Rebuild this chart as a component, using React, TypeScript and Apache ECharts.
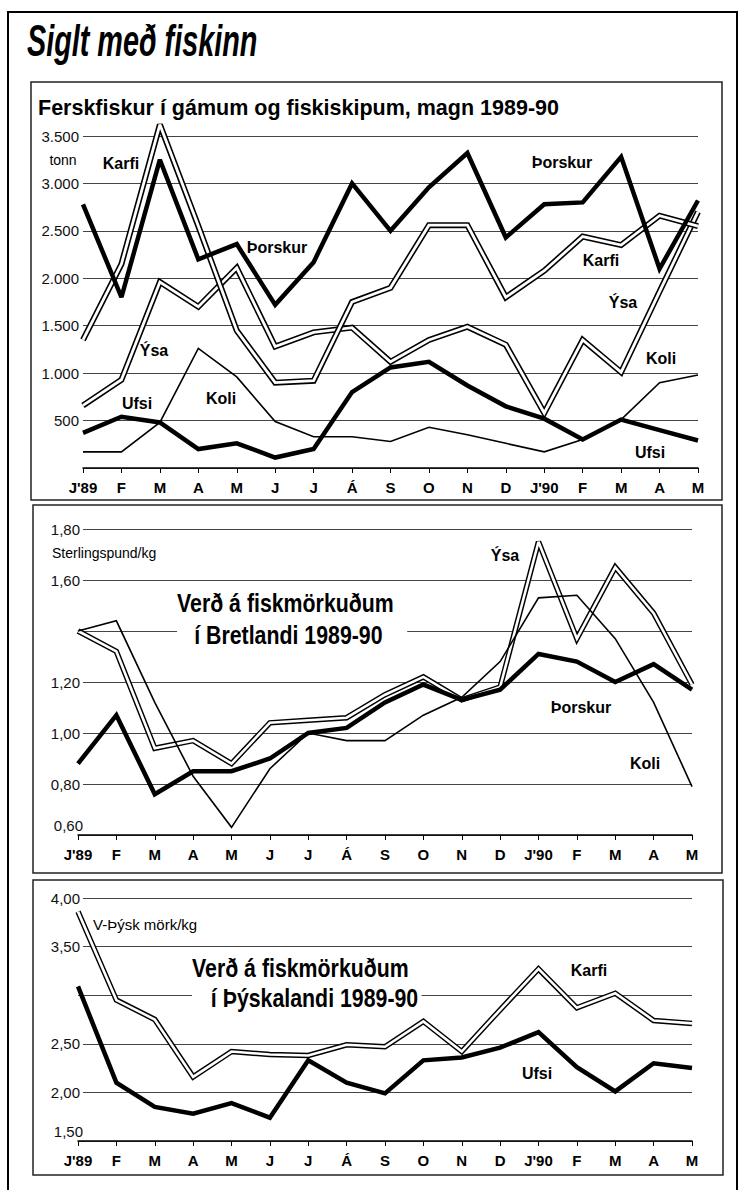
import React, { useEffect, useRef } from "react";
import * as echarts from "echarts";

// ---- categories ----
const months = ["J'89", "F", "M", "A", "M", "J", "J", "Á", "S", "O", "N", "D", "J'90", "F", "M", "A", "M"];

// ---- Panel 1: Ferskfiskur í gámum og fiskiskipum (tonn) ----
const thorskurTonn = [2780, 1800, 3250, 2200, 2360, 1720, 2170, 3000, 2500, 2960, 3320, 2430, 2780, 2800, 3280, 2100, 2820];
const karfiTonn = [1350, 2150, 3620, 2550, 1450, 900, 920, 1750, 1900, 2560, 2560, 1800, 2080, 2440, 2350, 2660, 2550];
const ysaTonn = [660, 930, 1960, 1700, 2110, 1280, 1430, 1480, 1120, 1350, 1490, 1300, 580, 1350, 1010, 1860, 2700];
const koliTonn = [170, 170, 480, 1260, 960, 490, 330, 330, 280, 430, 350, 260, 170, 300, 510, 900, 980];
const ufsiTonn = [370, 540, 480, 200, 260, 110, 200, 800, 1060, 1120, 870, 650, 520, 300, 510, 400, 290];

// ---- Panel 2: Verð í Bretlandi (Sterlingspund/kg) ----
const thorskurGBP = [0.88, 1.07, 0.76, 0.85, 0.85, 0.9, 1.0, 1.02, 1.12, 1.19, 1.13, 1.17, 1.31, 1.28, 1.2, 1.27, 1.17];
const ysaGBP = [1.4, 1.32, 0.94, 0.97, 0.88, 1.04, 1.05, 1.06, 1.15, 1.22, 1.13, 1.18, 1.75, 1.37, 1.65, 1.47, 1.19];
const koliGBP = [1.4, 1.44, 1.12, 0.83, 0.63, 0.86, 1.0, 0.97, 0.97, 1.07, 1.14, 1.28, 1.53, 1.54, 1.37, 1.12, 0.79];

// ---- Panel 3: Verð í Þýskalandi (V-Þýsk mörk/kg) ----
const karfiDEM = [3.86, 2.95, 2.75, 2.16, 2.42, 2.39, 2.38, 2.49, 2.47, 2.73, 2.42, 2.85, 3.27, 2.87, 3.02, 2.74, 2.71];
const ufsiDEM = [3.09, 2.1, 1.85, 1.78, 1.89, 1.74, 2.33, 2.1, 1.99, 2.33, 2.36, 2.46, 2.62, 2.26, 2.01, 2.3, 2.25];

const FONT = '"Liberation Sans", Arial, sans-serif';

function thickLine(name: string, data: number[], idx: number) {
  return {
    type: "line", name, data, xAxisIndex: idx, yAxisIndex: idx, symbol: "none", silent: true, z: 5, clip: false,
    lineStyle: { color: "#000", width: 4.5, join: "miter", miterLimit: 3 },
  };
}
function thinLine(name: string, data: number[], idx: number) {
  return {
    type: "line", name, data, xAxisIndex: idx, yAxisIndex: idx, symbol: "none", silent: true, z: 4, clip: false,
    lineStyle: { color: "#000", width: 1.6, join: "miter", miterLimit: 3 },
  };
}
function doubleLine(name: string, data: number[], idx: number, outer = 6, inner = 2.8) {
  return [
    {
      type: "line", name: name + "-o", data, xAxisIndex: idx, yAxisIndex: idx, symbol: "none", silent: true, z: 3, clip: false,
      lineStyle: { color: "#000", width: outer, join: "miter", miterLimit: 3 },
    },
    {
      type: "line", name: name + "-i", data, xAxisIndex: idx, yAxisIndex: idx, symbol: "none", silent: true, z: 3, clip: false,
      lineStyle: { color: "#fff", width: inner, join: "miter", miterLimit: 3 },
    },
  ];
}

function fmtTonn(v: number) {
  if (v === 0) return "";
  if (v >= 1000) return Math.floor(v / 1000) + "." + String(v % 1000).padStart(3, "0");
  return String(v);
}
function fmtDec(skip: number, low: number) {
  return (v: number) => {
    const c = Math.round(v * 100);
    if (c === skip) return "";
    const s = (c / 100).toFixed(2).replace(".", ",");
    return c === low ? "{low|" + s + "}" : "{n|" + s + "}";
  };
}

const yLabelBase = { color: "#111", fontFamily: FONT, fontSize: 15 };
const decRich = {
  low: { color: "#111", fontFamily: FONT, fontSize: 15, padding: [0, 0, 20, 0] },
  n: { color: "#111", fontFamily: FONT, fontSize: 15, backgroundColor: "#fff", padding: [1, 3, 1, 0] },
};

function xAxisDef(idx: number) {
  return {
    type: "category", gridIndex: idx, data: months, boundaryGap: false,
    axisLine: { onZero: false, lineStyle: { color: "#000", width: 1.5 } },
    axisTick: { show: true, length: 5, interval: 0, lineStyle: { color: "#000", width: 1 } },
    axisLabel: { interval: 0, margin: 12, color: "#000", fontFamily: FONT, fontWeight: "bold", fontSize: 15 },
    splitLine: { show: false },
  };
}
const splitLine = { show: true, lineStyle: { color: "#444", width: 1 } };

function label(text: string, x: number, y: number, size = 16, weight = "bold", align = "center") {
  return {
    type: "text", x, y, z: 10, silent: true,
    style: {
      text, fill: "#000", font: `${weight} ${size}px ${FONT}`,
      align, verticalAlign: "middle", textAlign: align, textVerticalAlign: "middle",
    },
  };
}
function titleText(text: string, x: number, y: number, bg: boolean, pad?: number[]) {
  const st: any = {
    text, fill: "#000", font: `bold 26px ${FONT}`,
    align: "left", verticalAlign: "middle", textAlign: "left", textVerticalAlign: "middle",
  };
  if (bg) {
    st.backgroundColor = "#fff";
    st.padding = pad;
  }
  return { type: "text", x, y, scaleX: 0.82, z: 9, silent: true, style: st };
}

export default function App() {
  const ref = useRef<HTMLDivElement>(null);
  useEffect(() => {
    if (!ref.current) return;
    const chart = echarts.init(ref.current, undefined, { renderer: "svg" });
    const option: any = {
      animation: false,
      backgroundColor: "#fff",
      grid: [
        { left: 83, top: 136, width: 615, height: 332 },
        { left: 78, top: 529, width: 614, height: 306 },
        { left: 78, top: 898, width: 614, height: 243 },
      ],
      xAxis: [xAxisDef(0), xAxisDef(1), xAxisDef(2)],
      yAxis: [
        {
          type: "value", gridIndex: 0, min: 0, max: 3500, interval: 500,
          axisLine: { show: false }, axisTick: { show: false },
          axisLabel: { ...yLabelBase, margin: 4, formatter: fmtTonn },
          splitLine,
        },
        {
          type: "value", gridIndex: 1, min: 0.6, max: 1.8, interval: 0.2,
          axisLine: { show: false }, axisTick: { show: false },
          axisLabel: { ...yLabelBase, margin: -5, formatter: fmtDec(140, 60), rich: decRich },
          splitLine,
        },
        {
          type: "value", gridIndex: 2, min: 1.5, max: 4.0, interval: 0.5,
          axisLine: { show: false }, axisTick: { show: false },
          axisLabel: { ...yLabelBase, margin: -5, formatter: fmtDec(300, 150), rich: decRich },
          splitLine,
        },
      ],
      series: [
        ...doubleLine("Ýsa", ysaTonn, 0),
        ...doubleLine("Karfi", karfiTonn, 0),
        thinLine("Koli", koliTonn, 0),
        thickLine("Ufsi", ufsiTonn, 0),
        thickLine("Þorskur", thorskurTonn, 0),

        ...doubleLine("Ýsa £", ysaGBP, 1, 5.5, 2.6),
        thinLine("Koli £", koliGBP, 1),
        thickLine("Þorskur £", thorskurGBP, 1),

        ...doubleLine("Karfi DM", karfiDEM, 2, 5.5, 2.6),
        thickLine("Ufsi DM", ufsiDEM, 2),
      ],
      graphic: [
        // frames
        { type: "rect", silent: true, z: 1, shape: { x: 8, y: 12, width: 729, height: 1200 }, style: { fill: "none", stroke: "#000", lineWidth: 2 } },
        { type: "rect", silent: true, z: 1, shape: { x: 31, y: 82, width: 691, height: 418 }, style: { fill: "none", stroke: "#222", lineWidth: 1.5 } },
        { type: "rect", silent: true, z: 1, shape: { x: 33, y: 505, width: 689, height: 368 }, style: { fill: "none", stroke: "#222", lineWidth: 1.5 } },
        { type: "rect", silent: true, z: 1, shape: { x: 33, y: 880, width: 690, height: 295 }, style: { fill: "none", stroke: "#222", lineWidth: 1.5 } },
        // main title
        {
          type: "text", x: 27, y: 41, scaleX: 0.64, z: 10, silent: true,
          style: {
            text: "Siglt með fiskinn", fill: "#000", font: `italic bold 45px ${FONT}`,
            align: "left", verticalAlign: "middle", textAlign: "left", textVerticalAlign: "middle",
          },
        },
        // panel 1
        label("Ferskfiskur í gámum og fiskiskipum, magn 1989-90", 38, 108, 21.5, "bold", "left"),
        label("tonn", 63, 160, 14, "normal"),
        label("Karfi", 121, 163),
        label("Þorskur", 277, 247),
        label("Ýsa", 154, 350),
        label("Ufsi", 137, 403),
        label("Koli", 221, 398),
        label("Þorskur", 562, 162),
        label("Karfi", 601, 260),
        label("Ýsa", 623, 302),
        label("Koli", 661, 358),
        label("Ufsi", 650, 452),
        // panel 2
        label("Sterlingspund/kg", 52, 553, 14, "normal", "left"),
        titleText("Verð á fiskmörkuðum", 177, 603, false),
        titleText("í Bretlandi 1989-90", 177, 635, true, [2, 30, 2, 21]),
        label("Ýsa", 505, 555),
        label("Þorskur", 581, 707),
        label("Koli", 645, 763),
        // panel 3
        label("V-Þýsk mörk/kg", 93, 924, 15, "normal", "left"),
        titleText("Verð á fiskmörkuðum", 192, 968, false),
        titleText("í Þýskalandi 1989-90", 192, 998, true, [2, 4, 2, 23]),
        label("Karfi", 589, 970),
        label("Ufsi", 537, 1073),
      ],
    };
    chart.setOption(option);
    return () => chart.dispose();
  }, []);
  return (
    <div
      ref={ref}
      style={{ position: "fixed", left: 0, top: 0, width: 744, height: 1190, background: "#fff" }}
    />
  );
}
